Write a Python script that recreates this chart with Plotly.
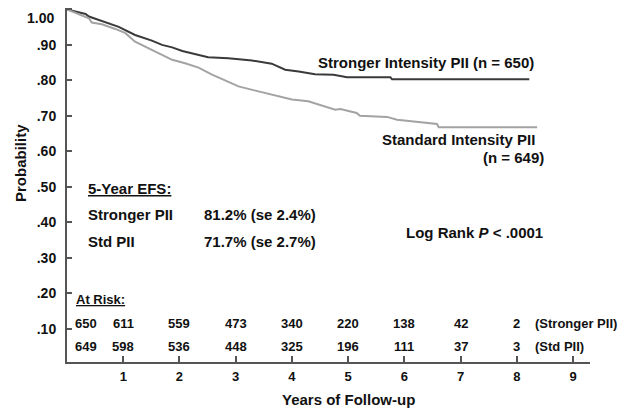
import plotly.graph_objects as go

# ---- data ----
stronger_t = [0, 0.33, 0.39, 0.62, 0.92, 1.21, 1.51, 1.69, 1.87, 2.05, 2.28, 2.51, 2.87,
              3.29, 3.64, 3.88, 4.12, 4.41, 4.74, 4.98, 5.75, 5.78, 8.22]
stronger_p = [1.0, 0.987, 0.980, 0.967, 0.951, 0.928, 0.912, 0.900, 0.893, 0.883, 0.874, 0.865, 0.862,
              0.856, 0.847, 0.830, 0.825, 0.817, 0.816, 0.809, 0.809, 0.803, 0.803]

standard_t = [0, 0.39, 0.44, 0.62, 0.86, 1.04, 1.21, 1.45, 1.69, 1.87, 2.10, 2.34, 2.57, 2.87,
              3.05, 3.35, 3.70, 4.00, 4.29, 4.59, 4.77, 4.86, 5.15, 5.21, 5.69, 5.87, 6.28,
              6.58, 6.61, 8.36]
standard_p = [1.0, 0.975, 0.963, 0.958, 0.945, 0.933, 0.909, 0.890, 0.872, 0.858, 0.848, 0.836, 0.817, 0.797,
              0.783, 0.771, 0.758, 0.746, 0.741, 0.727, 0.717, 0.719, 0.708, 0.700, 0.697, 0.689, 0.682,
              0.677, 0.668, 0.668]

x_ticks = [1, 2, 3, 4, 5, 6, 7, 8, 9]
y_ticks = [0.10, 0.20, 0.30, 0.40, 0.50, 0.60, 0.70, 0.80, 0.90, 1.00]
y_ticklabels = [".10", ".20", ".30", ".40", ".50", ".60", ".70", ".80", ".90", "1.00"]

at_risk_years = [0, 1, 2, 3, 4, 5, 6, 7, 8]
at_risk_stronger = [650, 611, 559, 473, 340, 220, 138, 42, 2]
at_risk_standard = [649, 598, 536, 448, 325, 196, 111, 37, 3]

FONT = "Arial, Liberation Sans, sans-serif"
DARK = "#3a3a3a"
GRAY = "#a3a3a3"
TXT = "#111111"

fig = go.Figure()
fig.add_trace(go.Scatter(x=stronger_t, y=stronger_p, mode="lines",
                         line=dict(color=DARK, width=2), hoverinfo="skip", showlegend=False))
fig.add_trace(go.Scatter(x=standard_t, y=standard_p, mode="lines",
                         line=dict(color=GRAY, width=2), hoverinfo="skip", showlegend=False))

ann = []

def txt(x, y, s, size=15, xanchor="left", xref="x", yref="y", **kw):
    ann.append(dict(x=x, y=y, xref=xref, yref=yref, text=s, showarrow=False,
                    xanchor=xanchor, yanchor="middle",
                    font=dict(family=FONT, size=size, color=TXT, weight="bold"), **kw))

txt(4.43, 0.850, "Stronger Intensity PII (n = 650)")
txt(8.36, 0.634, "Standard Intensity PII", xanchor="right")
txt(8.51, 0.583, "(n = 649)", xanchor="right")
txt(0.34, 0.496, "<u>5-Year EFS:</u>")
txt(0.34, 0.423, "Stronger PII")
txt(2.40, 0.423, "81.2% (se 2.4%)")
txt(0.34, 0.345, "Std PII")
txt(2.40, 0.345, "71.7% (se 2.7%)")
txt(6.0, 0.370, "Log Rank <i>P</i> < .0001")
txt(0.125, 0.182, "<u>At Risk:</u>", size=13)

for i, (yr, a, b) in enumerate(zip(at_risk_years, at_risk_stronger, at_risk_standard)):
    if i == 0:
        txt(yr, 0.115, str(a), size=13, xanchor="left", xshift=6)
        txt(yr, 0.050, str(b), size=13, xanchor="left", xshift=6)
    else:
        txt(yr, 0.115, str(a), size=13, xanchor="center")
        txt(yr, 0.050, str(b), size=13, xanchor="center")
txt(8.29, 0.115, "(Stronger PII)", size=13)
txt(8.29, 0.050, "(Std PII)", size=13)

# top tick label drawn as an annotation (it sits slightly below its tick, as in the reference)
top_label = y_ticklabels[-1]
ann.append(dict(x=0, y=y_ticks[-1], xref="paper", yref="y", text=top_label, showarrow=False,
                xanchor="right", yanchor="top", xshift=-12, yshift=0, borderpad=0,
                font=dict(family=FONT, size=14, color=TXT, weight="bold")))
axis_ticktext = y_ticklabels[:-1] + [""]

# axis titles
txt(5.0, -0.107, "Years of Follow-up", xanchor="center", yref="paper")
ann.append(dict(x=-0.0899, y=0.562, xref="paper", yref="paper", text="Probability",
                textangle=-90, showarrow=False, xanchor="center", yanchor="middle",
                font=dict(family=FONT, size=15, color=TXT, weight="bold")))

# the page body has an 8px margin, so the figure is sized/offset to compensate
fig.update_layout(
    width=620, height=401,
    margin=dict(l=59, r=38, t=0, b=47, autoexpand=False),
    paper_bgcolor="white", plot_bgcolor="white",
    annotations=ann,
    xaxis=dict(range=[0, 9.3], tickvals=x_ticks, ticks="inside", ticklen=6, tickwidth=2,
               tickcolor="#555", showline=True, linecolor="#555", linewidth=2,
               showgrid=False, zeroline=False, ticklabelstandoff=1, automargin=False,
               tickfont=dict(family=FONT, size=13, color=TXT, weight="bold")),
    yaxis=dict(range=[0.006, 1.004], tickvals=y_ticks, ticktext=axis_ticktext,
               ticks="inside", ticklen=5, tickwidth=2, tickcolor="#555",
               showline=True, linecolor="#555", linewidth=2, automargin=False,
               showgrid=False, zeroline=False, ticklabelstandoff=6,
               tickfont=dict(family=FONT, size=14, color=TXT, weight="bold")),
)

fig.write_html("out.html")
